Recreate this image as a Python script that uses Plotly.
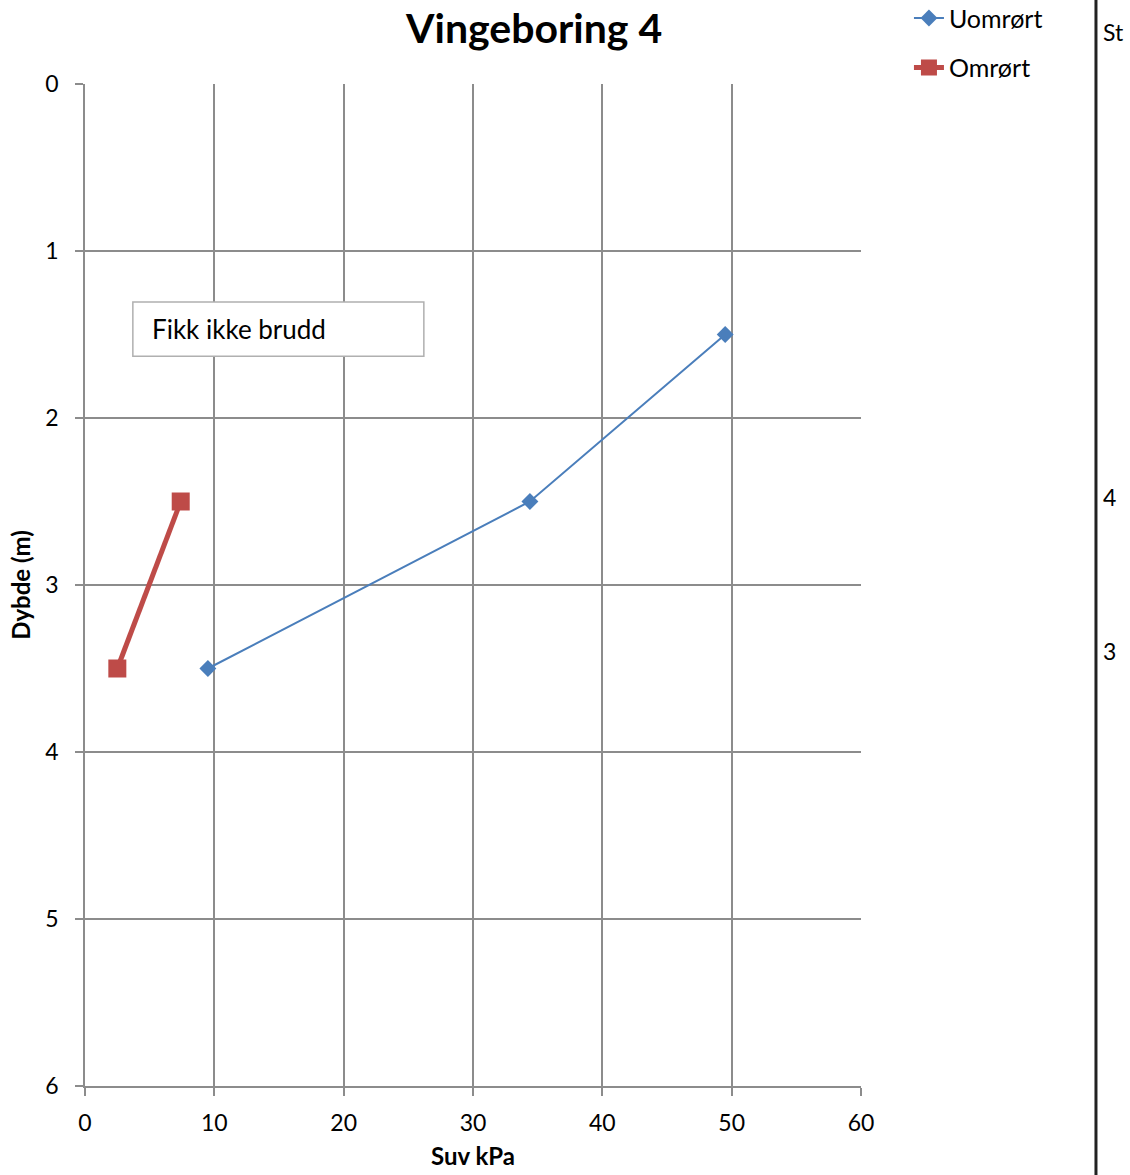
import plotly.graph_objects as go

# Vane test results: undisturbed and remoulded shear strength vs depth
depth_uomrort = [3.5, 2.5, 1.5]
suv_uomrort = [9.5, 34.4, 49.5]

depth_omrort = [3.5, 2.5]
suv_omrort = [2.5, 7.4]

x_ticks = [0, 10, 20, 30, 40, 50, 60]
y_ticks = [0, 1, 2, 3, 4, 5, 6]

FONT = "Lato"
GRID = "#8c8c8c"

fig = go.Figure()

fig.add_trace(go.Scatter(
    x=suv_uomrort, y=depth_uomrort, name="Uomrørt", mode="lines+markers",
    line=dict(color="#4A7EBB", width=2),
    marker=dict(symbol="diamond", size=13, color="#4A7EBB"),
    legendgroup="a",
))
fig.add_trace(go.Scatter(
    x=suv_omrort, y=depth_omrort, name="Omrørt", mode="lines+markers",
    line=dict(color="#BE4B48", width=5),
    marker=dict(symbol="square", size=18, color="#BE4B48"),
    legendgroup="b",
))

# Chart title
fig.add_annotation(x=0.5786, y=1.0828, xref="paper", yref="paper",
                   text="<b>Vingeboring 4</b>", showarrow=False,
                   xanchor="center", yanchor="top",
                   font=dict(family=FONT, size=41, color="#000"))

# Text box inside the plot
fig.add_shape(type="rect", xref="x", yref="y", x0=3.7, x1=26.2, y0=1.305, y1=1.63,
              line=dict(color="#b0b0b0", width=1.5), fillcolor="white", layer="above")
fig.add_annotation(x=5.0, y=1.47, xref="x", yref="y", text="Fikk ikke brudd",
                   showarrow=False, xanchor="left", yanchor="middle",
                   font=dict(family=FONT, size=26, color="#000"))

# Neighbouring panel edge and its labels
fig.add_shape(type="line", xref="paper", yref="paper", x0=1.3028, x1=1.3028,
              y0=-0.1, y1=1.1, line=dict(color="#222", width=3))
for txt, yp in [("St", 1.0519), ("4", 0.5878), ("3", 0.4341)]:
    fig.add_annotation(x=1.3093, y=yp, xref="paper", yref="paper", text=txt,
                       showarrow=False, xanchor="left", yanchor="middle",
                       font=dict(family=FONT, size=23, color="#000"))

fig.update_layout(
    width=1130, height=1175,
    margin=dict(l=85, r=269, t=84, b=89, autoexpand=False),
    paper_bgcolor="white", plot_bgcolor="white",
    font=dict(family=FONT, size=22, color="#000"),
    showlegend=True,
    legend=dict(x=1.0618, y=1.0885, xanchor="left", yanchor="top",
                font=dict(family=FONT, size=25, color="#000"),
                tracegroupgap=14, traceorder="grouped",
                bgcolor="rgba(0,0,0,0)"),
)

fig.update_xaxes(
    range=[0, 60], tickvals=x_ticks, showgrid=True, gridcolor=GRID, gridwidth=1.5,
    zeroline=False, showline=True, linecolor=GRID, linewidth=1.5,
    ticks="outside", ticklen=8, tickcolor=GRID, tickwidth=1.5,
    tickfont=dict(family=FONT, size=23), ticklabelstandoff=8, mirror=False,
    title=dict(text="<b>Suv kPa</b>", font=dict(family=FONT, size=24), standoff=13),
)
fig.update_yaxes(
    range=[6, 0], tickvals=y_ticks, showgrid=True, gridcolor=GRID, gridwidth=1.5,
    zeroline=False, showline=True, linecolor=GRID, linewidth=1.5,
    ticks="outside", ticklen=8, tickcolor=GRID, tickwidth=1.5,
    tickfont=dict(family=FONT, size=23), ticklabelstandoff=12,
    title=dict(text="<b>Dybde (m)</b>", font=dict(family=FONT, size=24), standoff=8),
)

fig.write_html("out.html")
